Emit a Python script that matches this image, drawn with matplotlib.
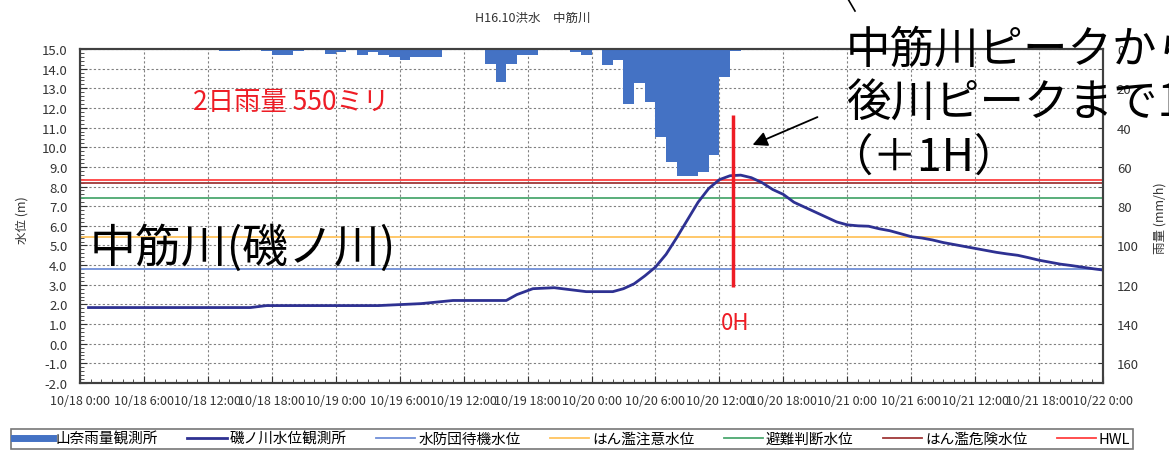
import matplotlib.pyplot as plt
from matplotlib.lines import Line2D
from matplotlib.ticker import MultipleLocator

plt.rcParams['font.family'] = ['Noto Sans CJK JP', 'DejaVu Sans']

W, H = 1169, 456

# hourly rainfall (mm/h), bar starts at hour index from 10/18 0:00
rain_hours = [13, 14, 17, 18, 19, 20, 23, 24, 26, 27, 28, 29, 30, 31, 32, 33,
              34, 35, 36, 37, 38, 39, 40, 41, 42, 46, 47, 48, 49, 50, 51, 52,
              53, 54, 55, 56, 57, 58, 59, 60, 61]
rain_mm = [1, 1, 1, 3, 3, 1, 2.3, 1.3, 3.3, 1.3, 3, 4.3, 5.8, 4, 4, 4,
           0.5, 0.5, 0.5, 0.5, 7.8, 17, 7.6, 3.3, 3.3, 1.3, 3.3, 0.5, 8.3, 5.8, 27.8, 17.4,
           26.8, 45, 57.3, 64.4, 64.4, 62.6, 53.8, 14.4, 1]

# water level (m) at 磯ノ川
level_hours = [0.8, 16, 17.5, 28, 30, 32, 35, 40, 41, 42.5, 44.5, 46, 47.5, 50,
               51, 52, 53, 54, 55, 56, 57, 58, 59, 60, 61, 62, 63, 64, 65, 66,
               67, 68, 69, 70, 71, 72, 73, 74, 75, 76, 77, 78, 79, 80, 81, 82,
               83, 84, 85, 86, 87, 88, 89, 90, 91, 92, 93, 94, 95, 96]
level_m = [1.84, 1.84, 1.94, 1.94, 1.99, 2.04, 2.2, 2.2, 2.5, 2.8, 2.85, 2.75, 2.65, 2.65,
           2.8, 3.05, 3.45, 3.9, 4.55, 5.4, 6.3, 7.2, 7.9, 8.35, 8.55, 8.58, 8.45, 8.2, 7.85, 7.6,
           7.2, 6.95, 6.7, 6.45, 6.2, 6.05, 6.0, 5.98, 5.85, 5.75, 5.6, 5.45, 5.38, 5.28, 5.15, 5.05,
           4.95, 4.85, 4.75, 4.65, 4.57, 4.5, 4.38, 4.25, 4.15, 4.05, 3.98, 3.9, 3.82, 3.75]

# reference water levels
thresholds = {
    '水防団待機水位': (3.78, '#6F8FD8'),
    'はん濫注意水位': (5.44, '#FFC45E'),
    '避難判断水位': (7.42, '#4CA870'),
    'はん濫危険水位': (8.2, '#A03838'),
    'HWL': (8.33, '#FF4040'),
}

xtick_labels = ['10/18 0:00', '10/18 6:00', '10/18 12:00', '10/18 18:00',
                '10/19 0:00', '10/19 6:00', '10/19 12:00', '10/19 18:00',
                '10/20 0:00', '10/20 6:00', '10/20 12:00', '10/20 18:00',
                '10/21 0:00', '10/21 6:00', '10/21 12:00', '10/21 18:00',
                '10/22 0:00']

peak_hour = 61.3

fig = plt.figure(figsize=(W / 100, H / 100), dpi=100)
ax = fig.add_axes([80 / W, 1 - 384 / H, (1103 - 80) / W, (384 - 50) / H])

ax.set_xlim(0, 96)
ax.set_ylim(-2, 15)
ax.xaxis.set_major_locator(MultipleLocator(6))
ax.xaxis.set_minor_locator(MultipleLocator(1))
ax.yaxis.set_major_locator(MultipleLocator(1))
ax.yaxis.set_minor_locator(MultipleLocator(0.2))
ax.set_xticks(range(0, 97, 6))
ax.set_xticklabels(xtick_labels)
ax.set_yticklabels([f'{v:.1f}' for v in ax.get_yticks()])
ax.grid(True, which='major', color='#808080', ls=(0, (2, 2)), lw=0.8)
ax.tick_params(axis='both', which='both', direction='in', colors='#333333', labelsize=9.5)
ax.tick_params(axis='both', which='major', length=5)
ax.tick_params(axis='both', which='minor', length=3)
ax.tick_params(axis='x', pad=8, labelsize=9)
ax.tick_params(axis='y', pad=9)

for name, (val, col) in thresholds.items():
    ax.axhline(val, color=col, lw=1.3)
ax.plot(level_hours, level_m, color='#2E3192', lw=2)

# peak marker
ax.vlines(peak_hour, 2.9, 11.65, color='#EE1C25', lw=2.5)
ax.text(peak_hour + 0.2, 1.1, '0H', color='#EE1C25', fontsize=16, ha='center', va='center')

ax2 = ax.twinx()
ax2.bar(rain_hours, rain_mm, width=1, align='edge', color='#4472C4', lw=0)
ax2.set_ylim(170, 0)
ax2.yaxis.set_major_locator(MultipleLocator(20))
ax2.yaxis.set_minor_locator(MultipleLocator(10))
ax2.set_yticks(range(0, 161, 20))
ax2.tick_params(axis='y', which='both', direction='in', colors='#333333', labelsize=9.5, pad=10)
ax2.tick_params(axis='y', which='minor', length=3)

for a in (ax, ax2):
    for s in a.spines.values():
        s.set_color('#404040')
        s.set_linewidth(1.5)

# texts
fig.text(533 / W, 1 - 18 / H, 'H16.10洪水　中筋川', fontsize=9, color='#333333', ha='center', va='center')
fig.text(22 / W, 1 - 220 / H, '水位 (m)', fontsize=9, color='#333333', rotation=90, ha='center', va='center')
fig.text(1160 / W, 1 - 218 / H, '雨量 (mm/h)', fontsize=9, color='#333333', rotation=90, ha='center', va='center')
fig.text(193 / W, 1 - 103 / H, '2日雨量 550ミリ', fontsize=19, color='#EE1C25', ha='left', va='center')
fig.text(90 / W, 1 - 249 / H, '中筋川(磯ノ川)', fontsize=33, color='black', ha='left', va='center')
fig.text(846 / W, 1 - 50 / H, '中筋川ピークから', fontsize=32, ha='left', va='center')
fig.text(846 / W, 1 - 104 / H, '後川ピークまで1時間', fontsize=32, ha='left', va='center')
fig.text(828 / W, 1 - 158 / H, '（＋1H）', fontsize=32, ha='left', va='center')

ax.annotate('', xy=(750 / W, 1 - 147 / H), xytext=(820 / W, 1 - 117 / H),
            xycoords='figure fraction', textcoords='figure fraction',
            arrowprops=dict(arrowstyle='-|>', color='black', lw=1.3, mutation_scale=22),
            annotation_clip=False)
fig.add_artist(Line2D([848 / W, 855 / W], [1.0, 1 - 12 / H], color='black', lw=1.2))

# legend
handles = [Line2D([], [], color='#4472C4', lw=5),
           Line2D([], [], color='#2E3192', lw=2)]
labels = ['山奈雨量観測所', '磯ノ川水位観測所']
for name, (val, col) in thresholds.items():
    handles.append(Line2D([], [], color=col, lw=1.3))
    labels.append(name)
leg = fig.legend(handles, labels, loc='center', bbox_to_anchor=(572 / W, 1 - 440 / H),
                 ncol=7, fontsize=10.5, frameon=True, fancybox=False, edgecolor='#555555',
                 handlelength=2.7, handletextpad=0.2, columnspacing=2.0, borderpad=0.2)
leg.get_frame().set_linewidth(1.2)

fig.savefig('out.png', dpi=100)
